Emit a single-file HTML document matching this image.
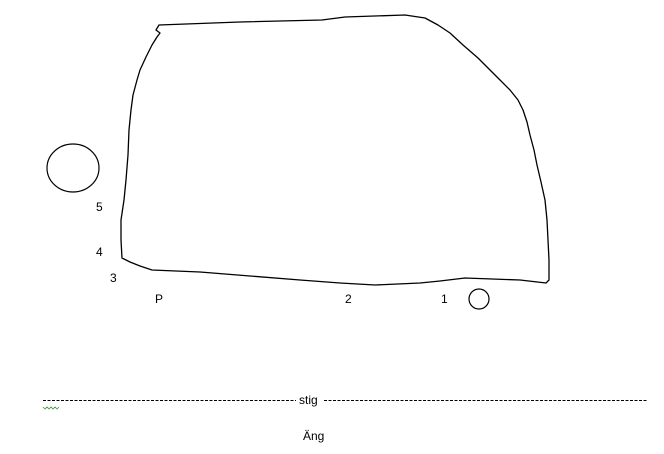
<!DOCTYPE html>
<html><head><meta charset="utf-8">
<style>
html,body{margin:0;padding:0;background:#fff;width:664px;height:454px;overflow:hidden}
text{font-family:"Liberation Sans",sans-serif;font-size:12px;fill:#000}
</style></head><body>
<svg width="664" height="454" viewBox="0 0 664 454">
<path fill="none" stroke="#000" stroke-width="1.3" stroke-linejoin="round"
d="M159,25 L240,22 L322,20 L345,17 L405,15 L425,18 L438,25 L450,33 L463,45 L478,58 L490,70 L500,80 L510,90 L518,100 L523,110 L527,122 L530,135 L534,150 L537,165 L541,182 L545,200 L547,220 L548,240 L549,260 L549,280 L546,283 L520,280 L465,278 L440,281 L420,283 L375,285 L340,283 L300,280 L250,276 L200,272 L152,270 L140,266 L130,262 L122,258 L121,240 L121,220 L124,200 L126,180 L128,155 L129,130 L131,110 L133,95 L137,80 L140,70 L146,57 L152,45 L157,37 L160,33 L156,30 Z"/>
<ellipse cx="73" cy="168" rx="26" ry="24" fill="none" stroke="#000" stroke-width="1.2"/>
<ellipse cx="479" cy="299" rx="10" ry="10" fill="none" stroke="#000" stroke-width="1.2"/>
<text x="96" y="211">5</text>
<text x="96" y="256">4</text>
<text x="110" y="282">3</text>
<text x="155" y="303">P</text>
<text x="345" y="303">2</text>
<text x="441" y="303">1</text>
<line x1="43" y1="400.5" x2="296" y2="400.5" stroke="#000" stroke-width="1" stroke-dasharray="3,1.5"/>
<text x="299" y="404">stig</text>
<line x1="324" y1="400.5" x2="648" y2="400.5" stroke="#000" stroke-width="1" stroke-dasharray="3,1.5"/>
<path d="M43,407 l2,2 l2,-2 l2,2 l2,-2 l2,2 l2,-2 l2,2 l2,-2" fill="none" stroke="#3a9a3a" stroke-width="0.8"/>
<text x="303" y="440">Äng</text>
</svg>
</body></html>
